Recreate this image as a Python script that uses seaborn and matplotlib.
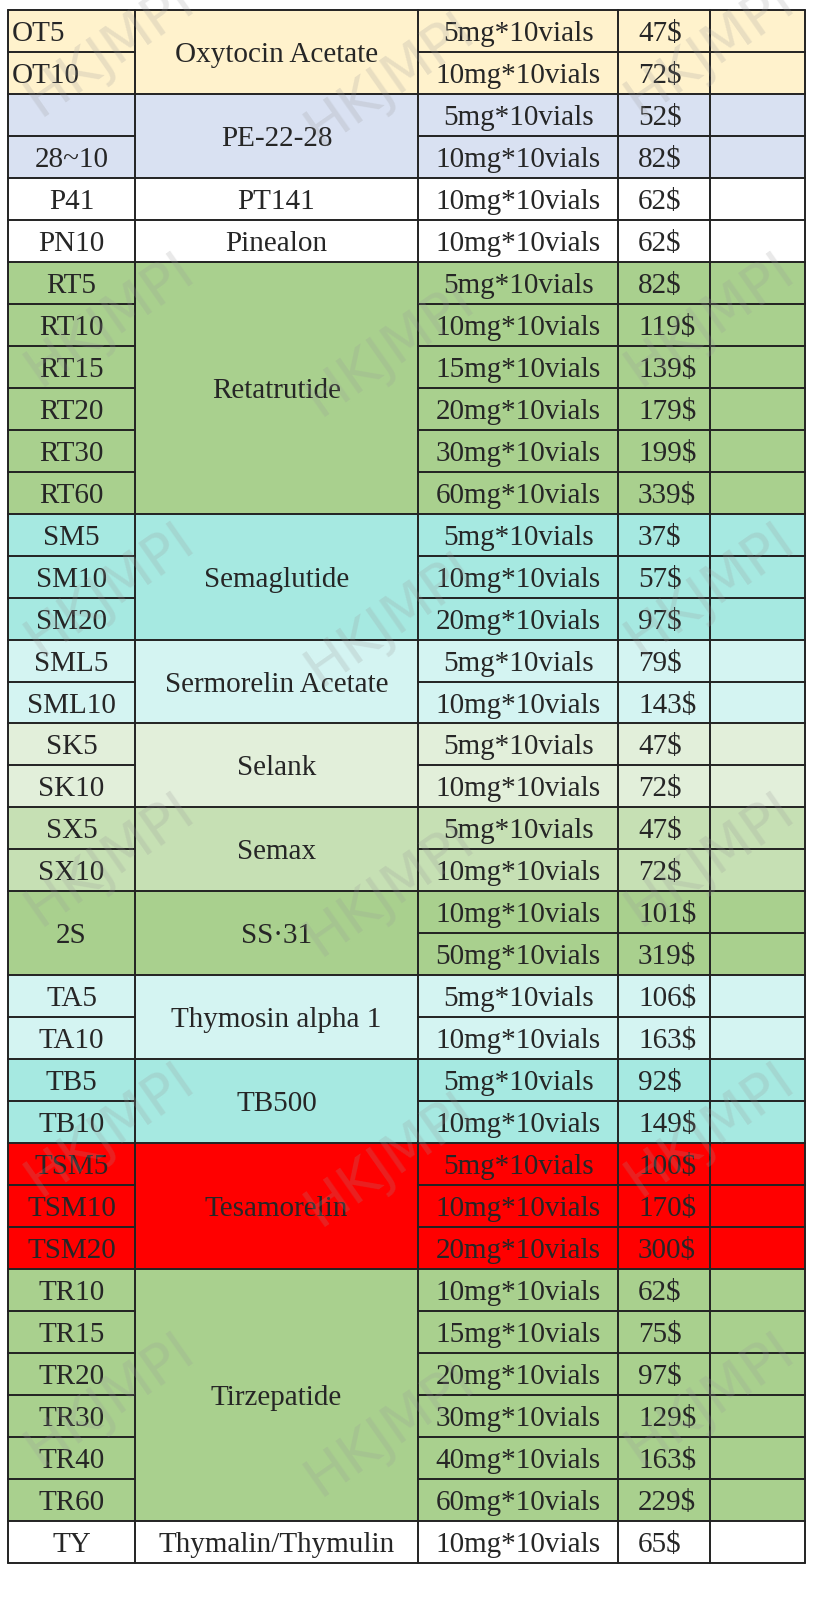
import matplotlib
matplotlib.use("Agg")
import matplotlib.pyplot as plt
import seaborn as sns
from matplotlib.patches import Rectangle

sns.set_theme(style="white")
plt.rcParams['font.family'] = ['Liberation Serif', 'DejaVu Serif']

codes = ["OT5","OT10","","28~10","P41","PN10","RT5","RT10","RT15","RT20","RT30","RT60",
         "SM5","SM10","SM20","SML5","SML10","SK5","SK10","SX5","SX10","2S","",
         "TA5","TA10","TB5","TB10","TSM5","TSM10","TSM20",
         "TR10","TR15","TR20","TR30","TR40","TR60","TY"]
groups = [("Oxytocin Acetate",2,"#FFF2CC"),("PE-22-28",2,"#D9E1F2"),("PT141",1,"#FFFFFF"),
          ("Pinealon",1,"#FFFFFF"),("Retatrutide",6,"#A9D08E"),("Semaglutide",3,"#A6E9E1"),
          ("Sermorelin Acetate",2,"#D4F4F2"),("Selank",2,"#E2EFDA"),("Semax",2,"#C6E0B4"),
          ("SS·31",2,"#A9D08E"),("Thymosin alpha 1",2,"#D4F4F2"),("TB500",2,"#A6E9E1"),
          ("Tesamorelin",3,"#FF0000"),("Tirzepatide",6,"#A9D08E"),("Thymalin/Thymulin",1,"#FFFFFF")]
sizes = ["5mg*10vials","10mg*10vials","5mg*10vials","10mg*10vials","10mg*10vials","10mg*10vials",
         "5mg*10vials","10mg*10vials","15mg*10vials","20mg*10vials","30mg*10vials","60mg*10vials",
         "5mg*10vials","10mg*10vials","20mg*10vials","5mg*10vials","10mg*10vials",
         "5mg*10vials","10mg*10vials","5mg*10vials","10mg*10vials","10mg*10vials","50mg*10vials",
         "5mg*10vials","10mg*10vials","5mg*10vials","10mg*10vials",
         "5mg*10vials","10mg*10vials","20mg*10vials",
         "10mg*10vials","15mg*10vials","20mg*10vials","30mg*10vials","40mg*10vials","60mg*10vials",
         "10mg*10vials"]
prices = [47,72,52,82,62,62,82,119,139,179,199,339,37,57,97,79,143,47,72,47,72,101,319,
          106,163,92,149,100,170,300,62,75,97,129,163,229,65]

fig = plt.figure(figsize=(8.3, 16), dpi=100)
ax = fig.add_axes([0, 0, 1, 1])
ax.set_xlim(0, 830); ax.set_ylim(1600, 0); ax.axis("off")

cols = [8, 135, 418, 618, 710, 805]
top, rh = 10, 41.97
lw, lc = 1.4, "#222222"
fs = 21
n = len(codes)
va = "center_baseline"

r = 0
for name, cnt, color in groups:
    y0 = top + r*rh
    ax.add_patch(Rectangle((cols[0], y0), cols[-1]-cols[0], cnt*rh, facecolor=color, edgecolor="none", zorder=1))
    ax.text((cols[1]+cols[2])/2, y0 + cnt*rh/2, name, ha="center", va=va, fontsize=fs, zorder=5)
    ax.plot([cols[0], cols[-1]], [y0, y0], color=lc, lw=lw, zorder=4)
    for i in range(1, cnt):
        yy = y0 + i*rh
        ax.plot([cols[2], cols[-1]], [yy, yy], color=lc, lw=lw, zorder=4)
        if name != "SS·31":
            ax.plot([cols[0], cols[1]], [yy, yy], color=lc, lw=lw, zorder=4)
    r += cnt
ax.plot([cols[0], cols[-1]], [top+n*rh]*2, color=lc, lw=lw, zorder=4)
for x in cols:
    ax.plot([x, x], [top, top+n*rh], color=lc, lw=lw, zorder=4)

for i in range(n):
    yc = top + (i+0.5)*rh
    c = codes[i]
    if c:
        if c.startswith("OT"):
            ax.text(cols[0]+4, yc, c, ha="left", va=va, fontsize=fs, zorder=5)
        elif c == "2S":
            ax.text((cols[0]+cols[1])/2, yc+rh/2, c, ha="center", va=va, fontsize=fs, zorder=5)
        else:
            ax.text((cols[0]+cols[1])/2, yc, c, ha="center", va=va, fontsize=fs, zorder=5)
    ax.text((cols[2]+cols[3])/2, yc, sizes[i], ha="center", va=va, fontsize=fs, zorder=5)
    ax.text(cols[3]+20, yc, f"{prices[i]}$", ha="left", va=va, fontsize=fs, zorder=5)

# watermark
for yb in range(50, 1600, 270):
    for j, xb in enumerate([110, 390, 710]):
        yy = yb + (30 if j == 1 else 0)
        if yy > 1560:
            continue
        ax.text(xb, yy, "HKJMPI", ha="center", va="center", fontsize=40, rotation=35,
                family="DejaVu Sans", color="#999999", alpha=0.22, zorder=6)

fig.savefig("out.png", dpi=100)
